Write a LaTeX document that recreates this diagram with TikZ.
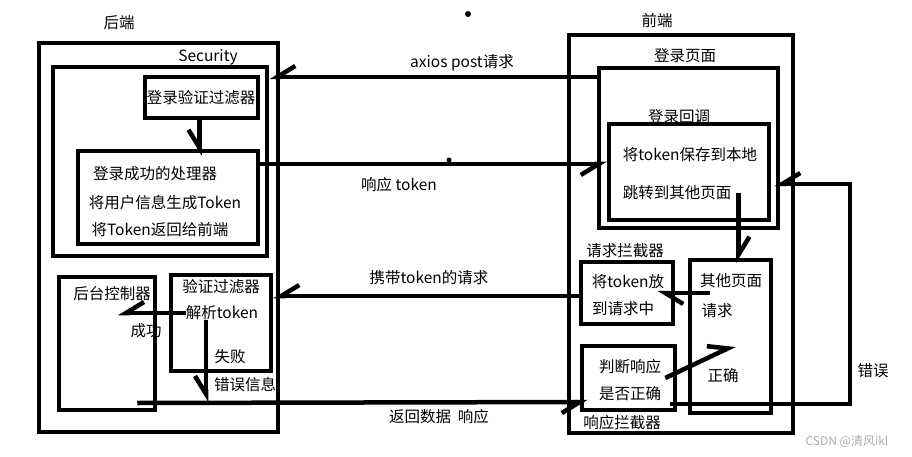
\documentclass[tikz,border=0pt]{standalone}
\usepackage{fontspec}
\setmainfont{Noto Sans CJK SC}
\usepackage{tikz}
\usetikzlibrary{arrows.meta, positioning, fit}

\begin{document}
\begin{tikzpicture}[
    x=1pt, y=-1pt,
    box/.style={draw, line width=4.5pt, inner sep=0pt},
    lbl/.style={font=\fontsize{15.5}{18}\selectfont, inner sep=0pt},
    arr/.style={line width=4.5pt, -{Straight Barb[length=18pt, width=22pt, #1]}},
    arr/.default=right
]
\useasboundingbox (0,0) rectangle (912,457);
\node[lbl] (backtitle) at (119,23) {后端};
\node[lbl] (sectitle) at (208,57) {Security};
\node[lbl] (authtxt) at (201,98) {登录验证过滤器};
\node[lbl] (oktxt) at (155,174) {登录成功的处理器};
\node[lbl] (gentxt) at (165,203) {将用户信息生成Token};
\node[lbl] (rettxt) at (160,230) {将Token返回给前端};
\node[lbl] (ctrltxt) at (112,294) {后台控制器};
\node[lbl] (succtxt) at (146,331) {成功};
\node[lbl] (verifytxt) at (221,287) {验证过滤器};
\node[lbl] (parse) at (222,313) {解析token};
\node[lbl] (failtxt) at (230,357) {失败};
\node[lbl] (errinfo) at (245,385) {错误信息};
\node[lbl] (axiostxt) at (462,63) {axios post请求};
\node[lbl] (resptxt) at (399,185) {响应 token};
\node[lbl] (carrytxt) at (429,278) {携带token的请求};
\node[lbl] (backtxt) at (439,417) {返回数据\ \ 响应};
\node[lbl] (fronttitle) at (657,21) {前端};
\node[lbl] (logintitle) at (685,56) {登录页面};
\node[lbl] (cbtitle) at (679,117) {登录回调};
\node[lbl] (savetxt) at (690,155) {将token保存到本地};
\node[lbl] (jump) at (677,193) {跳转到其他页面};
\node[lbl] (reqtitle) at (625,251) {请求拦截器};
\node[lbl] (puttxt) at (628,282) {将token放};
\node[lbl] (puttxt2) at (623,309) {到请求中};
\node[lbl] (othertxt) at (731,281) {其他页面};
\node[lbl] (reqtxt) at (717,311) {请求};
\node[lbl] (righttxt) at (723,376) {正确};
\node[lbl] (judgetxt) at (630,367) {判断响应};
\node[lbl] (judgetxt2) at (630,394) {是否正确};
\node[lbl] (resptitle) at (622,423) {响应拦截器};
\node[lbl] (errtxt) at (873,371) {错误};
\node[font=\fontsize{12}{14}\selectfont, text=gray!65, inner sep=0pt] (mark) at (847,441) {CSDN @清风ikl};

\node[box, fit={(39,43) (278,432)}] (backend) {};
\node[box, fit={(53,67) (267,256)}] (security) {};
\node[box, fit={(145,77) (258,118)}] (authfilter) {};
\node[box, fit={(78,151) (258,244)}] (handler) {};
\node[box, fit={(59,277) (155,410)}] (ctrl) {};
\node[box, fit={(171,275) (271,371)}] (verify) {};
\node[box, fit={(569,35) (793,433)}] (frontend) {};
\node[box, fit={(599,68) (778,228)}] (loginpage) {};
\node[box, fit={(609,124) (769,220)}] (callback) {};
\node[box, fit={(581,262) (673,324)}] (reqint) {};
\node[box, fit={(690,260) (771,413)}] (otherpage) {};
\node[box, fit={(582,346) (675,410)}] (judge) {};

\coordinate (errdrop) at (206,402);
\coordinate (okpt) at (735,345);
\coordinate (errcorner) at (850,404);

\draw[arr] (loginpage.west |- 0,77) -- (security.east |- 0,77);
\draw[arr] ([xshift=-2pt]authfilter.south) -- ([xshift=-2pt,yshift=-7pt]authfilter.south |- handler.north);
\draw[arr] (handler.east |- 0,164) -- (callback.west |- 0,164);
\draw[arr] (parse.west) -- ([xshift=11pt]ctrl.center |- parse);
\draw[arr] ([xshift=-16pt]parse.south) -- (errdrop);
\draw[arr] ([xshift=-20pt]ctrl.east |- 0,403) -- ([xshift=8pt]judge.west |- 0,402);
\draw[arr] (reqint.west |- 0,296) -- (verify.east |- 0,296);
\draw[arr=left] ([xshift=22pt]otherpage.west |- 0,293) -- ([xshift=-18pt]reqint.east |- 0,293);
\draw[arr=left] ([xshift=7pt]jump.east) -- ([xshift=7pt,yshift=-5pt]jump.east |- otherpage.north);
\draw[arr=left] ([xshift=-12pt]judge.east |- 0,378) -- (okpt);
\draw[arr] ([xshift=-7pt]judge.east |- 0,404) -- (errcorner) |- ([xshift=3pt]callback.east |- 0,184);

\fill (468,14) circle (3pt);
\fill (449,160) circle (2.5pt);
\end{tikzpicture}
\end{document}
